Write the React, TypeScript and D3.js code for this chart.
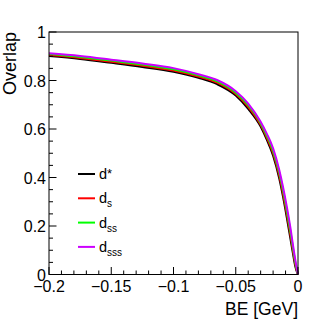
import { useEffect, useRef } from "react";
import * as d3 from "d3";

// binding energy grid (GeV)
const beValues = [-0.2, -0.175, -0.15, -0.125, -0.1, -0.08, -0.065, -0.05, -0.04, -0.03, -0.025, -0.02, -0.015, -0.012, -0.009, -0.006, -0.004, -0.002, 0];

// overlap for each state
const dStar = [0.901, 0.889, 0.873, 0.856, 0.836, 0.811, 0.785, 0.738, 0.683, 0.61, 0.555, 0.49, 0.395, 0.32, 0.235, 0.145, 0.085, 0.03, 0];
const dS = [0.905, 0.893, 0.877, 0.861, 0.841, 0.816, 0.791, 0.744, 0.691, 0.617, 0.564, 0.5, 0.407, 0.333, 0.25, 0.16, 0.097, 0.038, 0];
const dSS = [0.909, 0.897, 0.882, 0.866, 0.846, 0.821, 0.797, 0.75, 0.698, 0.624, 0.572, 0.51, 0.419, 0.347, 0.265, 0.175, 0.108, 0.046, 0];
const dSSS = [0.912, 0.901, 0.886, 0.87, 0.851, 0.826, 0.802, 0.756, 0.705, 0.63, 0.58, 0.52, 0.43, 0.36, 0.28, 0.19, 0.12, 0.055, 0];

const seriesNames = ["d*", "ds", "dss", "dsss"];
const seriesColors = ["#000000", "#ff0000", "#00ff00", "#cc00ff"];

const xTicks = [-0.2, -0.15, -0.1, -0.05, 0];
const xTickLabels = ["\u22120.2", "\u22120.15", "\u22120.1", "\u22120.05", "0"];
const yTicks = [0, 0.2, 0.4, 0.6, 0.8, 1];
const yTickLabels = ["0", "0.2", "0.4", "0.6", "0.8", "1"];

const W = 332;
const H = 324;
const margin = { left: 49, right: 34, top: 32, bottom: 49.5 };
const font = "'Liberation Sans', Arial, Helvetica, sans-serif";

export default function App() {
  const ref = useRef<SVGSVGElement>(null);

  useEffect(() => {
    const svg = d3.select(ref.current);
    svg.selectAll("*").remove();

    const x = d3.scaleLinear().domain([-0.2, 0]).range([margin.left, W - margin.right]);
    const y = d3.scaleLinear().domain([0, 1]).range([H - margin.bottom, margin.top]);

    const allSeries = [dStar, dS, dSS, dSSS];

    const line = d3.line<number>()
      .x((_, i) => x(beValues[i]))
      .y(d => y(d))
      .curve(d3.curveMonotoneX);

    const plot = svg.append("g");
    allSeries.forEach((vals, k) => {
      plot.append("path")
        .attr("d", line(vals))
        .attr("fill", "none")
        .attr("stroke", seriesColors[k])
        .attr("stroke-width", 2);
    });

    // frame
    svg.append("rect")
      .attr("x", x(-0.2))
      .attr("y", y(1))
      .attr("width", x(0) - x(-0.2))
      .attr("height", y(0) - y(1))
      .attr("fill", "none")
      .attr("stroke", "#000")
      .attr("stroke-width", 1);

    const axes = svg.append("g").attr("stroke", "#000").attr("stroke-width", 1);

    // x ticks (pointing inward)
    d3.range(0, 21).forEach(i => {
      const v = -0.2 + i * 0.01;
      const len = i % 5 === 0 ? 7.5 : 4;
      axes.append("line")
        .attr("x1", x(v)).attr("x2", x(v))
        .attr("y1", y(0)).attr("y2", y(0) - len);
    });
    // y ticks
    d3.range(0, 21).forEach(i => {
      const v = i * 0.05;
      const len = i % 4 === 0 ? 7.5 : 4;
      axes.append("line")
        .attr("x1", x(-0.2)).attr("x2", x(-0.2) + len)
        .attr("y1", y(v)).attr("y2", y(v));
    });

    const labels = svg.append("g").attr("font-family", font).attr("fill", "#000");

    xTicks.forEach((v, i) => {
      labels.append("text")
        .attr("x", x(v))
        .attr("y", 292)
        .attr("text-anchor", "middle")
        .attr("font-size", 16)
        .text(xTickLabels[i]);
    });
    yTicks.forEach((v, i) => {
      labels.append("text")
        .attr("x", 46)
        .attr("y", y(v) + 6)
        .attr("text-anchor", "end")
        .attr("font-size", 16)
        .text(yTickLabels[i]);
    });

    labels.append("text")
      .attr("x", x(0))
      .attr("y", 315)
      .attr("text-anchor", "end")
      .attr("font-size", 17.5)
      .text("BE [GeV]");

    labels.append("text")
      .attr("transform", `translate(15.5, ${y(1)}) rotate(-90)`)
      .attr("text-anchor", "end")
      .attr("font-size", 18)
      .text("Overlap");

    // legend
    const legend = svg.append("g").attr("font-family", font);
    seriesNames.forEach((name, k) => {
      const ly = 174 + k * 24.3;
      legend.append("line")
        .attr("x1", 78).attr("x2", 95)
        .attr("y1", ly).attr("y2", ly)
        .attr("stroke", seriesColors[k])
        .attr("stroke-width", 2);
      const t = legend.append("text")
        .attr("x", 99)
        .attr("y", ly + 5)
        .attr("font-size", 14.5)
        .attr("fill", "#000");
      t.append("tspan").text("d");
      if (name === "d*") {
        t.append("tspan").attr("font-size", 13).attr("dy", -1).text("*");
      } else {
        t.append("tspan").attr("font-size", 10).attr("dy", 4).text(name.slice(1));
      }
    });
  }, []);

  return (
    <svg
      ref={ref}
      width={W}
      height={H}
      style={{ position: "absolute", left: 0, top: 0, background: "#fff" }}
    />
  );
}
